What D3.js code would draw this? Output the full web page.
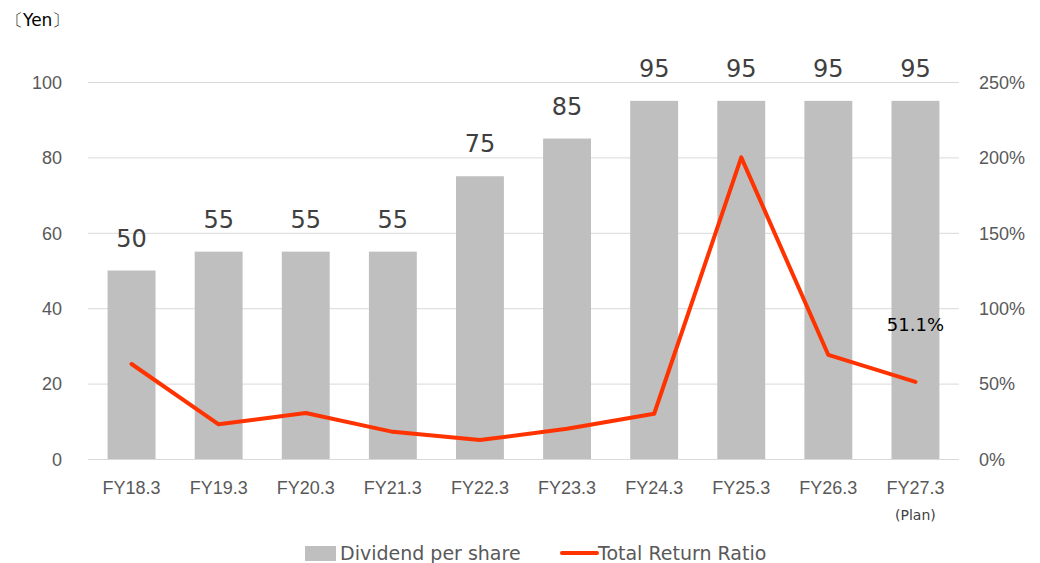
<!DOCTYPE html>
<html>
<head>
<meta charset="utf-8">
<script src="https://cdn.jsdelivr.net/npm/d3@7"></script>
<style>
  body { margin: 0; background: #fff; }
  svg { font-family: Verdana, "DejaVu Sans", "Noto Sans", sans-serif; }
  .tick-label { fill: #595959; font-size: 18px; }
  .bar-label { fill: #404040; font-size: 24px; text-anchor: middle; }
</style>
</head>
<body>
<svg id="chart" width="1040" height="563"></svg>
<script>
const years = ['FY18.3', 'FY19.3', 'FY20.3', 'FY21.3', 'FY22.3', 'FY23.3', 'FY24.3', 'FY25.3', 'FY26.3', 'FY27.3'];
const dividends = [50, 55, 55, 55, 75, 85, 95, 95, 95, 95];
const returnRatio = [63, 23, 30.5, 18, 12.6, 20, 30, 200, 69, 51.1];
const leftTicks = [0, 20, 40, 60, 80, 100];
const rightTicks = [0, 50, 100, 150, 200, 250];

const chart = d3.select('#chart');

const x = d3.scaleBand().domain(years).range([88, 959]).paddingInner(0.45).paddingOuter(0.225);
const yL = d3.scaleLinear().domain([0, 100]).range([459, 82]);
const yR = d3.scaleLinear().domain([0, 250]).range([459, 82]);

// gridlines
chart.append('g').selectAll('line').data(leftTicks).join('line')
  .attr('x1', 88).attr('x2', 959)
  .attr('y1', d => yL(d) + 0.5).attr('y2', d => yL(d) + 0.5)
  .attr('stroke', '#d9d9d9').attr('stroke-width', 1);

// left axis
const leftAxis = d3.axisLeft(yL).tickValues(leftTicks).tickSize(0).tickPadding(0);
const gl = chart.append('g').attr('transform', 'translate(62,0)').call(leftAxis);
gl.select('.domain').remove();
gl.selectAll('text').attr('class', 'tick-label').attr('dy', '0.35em').attr('font-family', null).attr('font-size', null);

// right axis
const rightAxis = d3.axisRight(yR).tickValues(rightTicks).tickSize(0).tickPadding(0).tickFormat(d => d + '%');
const gr = chart.append('g').attr('transform', 'translate(979,0)').call(rightAxis);
gr.select('.domain').remove();
gr.selectAll('text').attr('class', 'tick-label').attr('dy', '0.35em').attr('font-family', null).attr('font-size', null);

// x axis
const xAxis = d3.axisBottom(x).tickSize(0).tickPadding(0);
const gx = chart.append('g').attr('transform', 'translate(0,480)').call(xAxis);
gx.select('.domain').remove();
gx.selectAll('text').attr('class', 'tick-label').attr('dy', '0.8em').attr('font-family', null).attr('font-size', null);

chart.append('text')
  .attr('x', x('FY27.3') + x.bandwidth() / 2).attr('y', 520)
  .attr('text-anchor', 'middle').attr('fill', '#404040').attr('font-size', 14)
  .text('(Plan)');

// bars
chart.append('g').selectAll('rect').data(dividends).join('rect')
  .attr('x', (d, i) => x(years[i]))
  .attr('y', d => yL(d))
  .attr('width', x.bandwidth())
  .attr('height', d => yL(0) - yL(d))
  .attr('fill', '#bfbfbf');

chart.append('g').selectAll('text').data(dividends).join('text')
  .attr('class', 'bar-label')
  .attr('x', (d, i) => x(years[i]) + x.bandwidth() / 2)
  .attr('y', d => yL(d) - 24)
  .text(d => d);

// line
const line = d3.line()
  .x((d, i) => x(years[i]) + x.bandwidth() / 2)
  .y(d => yR(d));

chart.append('path')
  .attr('d', line(returnRatio))
  .attr('fill', 'none')
  .attr('stroke', '#ff3300')
  .attr('stroke-width', 4)
  .attr('stroke-linejoin', 'round')
  .attr('stroke-linecap', 'round');

const last = returnRatio.length - 1;
chart.append('text')
  .attr('x', x(years[last]) + x.bandwidth() / 2)
  .attr('y', yR(returnRatio[last]) - 51)
  .attr('text-anchor', 'middle').attr('fill', '#000').attr('font-size', 18)
  .text(returnRatio[last].toFixed(1) + '%');

// unit
chart.append('text').attr('x', 6).attr('y', 26)
  .attr('fill', '#000').attr('font-size', 17).text('〔Yen〕');

// legend
const legend = chart.append('g').attr('transform', 'translate(305,553)');
legend.append('rect').attr('x', 0).attr('y', -7).attr('width', 31).attr('height', 15).attr('fill', '#bfbfbf');
legend.append('text').attr('x', 35).attr('y', 0).attr('dy', '0.35em')
  .attr('class', 'tick-label').style('font-size', '19px').text('Dividend per share');
legend.append('line').attr('x1', 257).attr('x2', 292).attr('y1', 0).attr('y2', 0)
  .attr('stroke', '#ff3300').attr('stroke-width', 4).attr('stroke-linecap', 'round');
legend.append('text').attr('x', 293).attr('y', 0).attr('dy', '0.35em')
  .attr('class', 'tick-label').style('font-size', '19px').text('Total Return Ratio');
</script>
</body>
</html>
